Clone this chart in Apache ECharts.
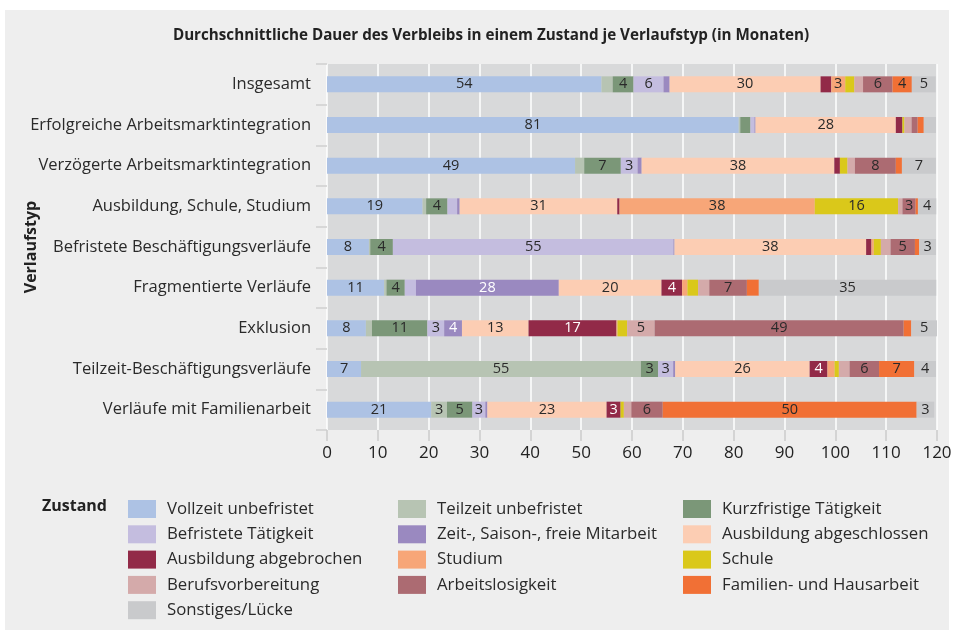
<!DOCTYPE html>
<html>
<head>
<meta charset="utf-8">
<script src="https://cdn.jsdelivr.net/npm/echarts@6/dist/echarts.min.js"></script>
<style>
  html, body { margin: 0; padding: 0; background: #fff; }
  #main { width: 954px; height: 630px; }
</style>
</head>
<body>
<div id="main"></div>
<script>
// Verlaufstypen (von oben nach unten)
var categories = [
	'Insgesamt',
	'Erfolgreiche Arbeitsmarktintegration',
	'Verzögerte Arbeitsmarktintegration',
	'Ausbildung, Schule, Studium',
	'Befristete Beschäftigungsverläufe',
	'Fragmentierte Verläufe',
	'Exklusion',
	'Teilzeit-Beschäftigungsverläufe',
	'Verläufe mit Familienarbeit'
];

// Monate je Zustand, gleiche Reihenfolge wie categories
var vollzeit     = [54.0, 81.0, 48.8, 18.8, 8.25, 11.25, 7.65, 6.7, 20.5];
var teilzeit     = [2.2, 0.3, 1.8, 0.7, 0.26, 0.45, 1.2, 55.05, 3.1];
var kurzfristig  = [4.1, 2.0, 7.2, 4.2, 4.45, 3.6, 10.9, 3.4, 5.0];
var befristet    = [5.9, 0.8, 3.3, 1.9, 55.2, 2.2, 3.3, 2.95, 2.55];
var zeitarbeit   = [1.2, 0.2, 0.8, 0.5, 0.2, 28.1, 3.5, 0.4, 0.4];
var ausbAbgeschl = [29.7, 27.6, 37.9, 31.0, 37.7, 20.2, 13.1, 26.45, 23.45];
var ausbAbgebr   = [2.1, 1.3, 1.1, 0.45, 1.05, 4.05, 17.3, 3.5, 2.75];
var studium      = [2.75, 0, 0, 38.4, 0.45, 1.05, 0.2, 1.4, 0];
var schule       = [1.8, 0.4, 1.5, 16.4, 1.4, 2.1, 1.9, 0.85, 0.65];
var berufsvorb   = [1.7, 1.4, 1.45, 0.85, 1.9, 2.2, 5.4, 2.1, 1.45];
var arbeitslos   = [5.8, 1.2, 8.05, 2.6, 4.8, 7.4, 49.0, 5.8, 6.2];
var familie      = [3.8, 1.2, 1.2, 0.45, 0.85, 2.35, 1.5, 6.95, 49.95];
var sonstiges    = [4.7, 2.4, 6.7, 3.6, 3.3, 34.9, 5.05, 4.25, 3.45];

var xTicks = [0, 10, 20, 30, 40, 50, 60, 70, 80, 90, 100, 110, 120];

// Zustände: name, daten, farbe, labelfarbe
var zustaende = [
	['Vollzeit unbefristet', vollzeit, '#adc2e4', '#2a2a2a'],
	['Teilzeit unbefristet', teilzeit, '#b7c4b3', '#2a2a2a'],
	['Kurzfristige Tätigkeit', kurzfristig, '#7b9778', '#2a2a2a'],
	['Befristete Tätigkeit', befristet, '#c4bddf', '#2a2a2a'],
	['Zeit-, Saison-, freie Mitarbeit', zeitarbeit, '#9a89c0', '#fff'],
	['Ausbildung abgeschlossen', ausbAbgeschl, '#fccdb3', '#2a2a2a'],
	['Ausbildung abgebrochen', ausbAbgebr, '#922a48', '#fff'],
	['Studium', studium, '#f7a678', '#2a2a2a'],
	['Schule', schule, '#dac81a', '#2a2a2a'],
	['Berufsvorbereitung', berufsvorb, '#d4aaaa', '#2a2a2a'],
	['Arbeitslosigkeit', arbeitslos, '#ac6b72', '#2a2a2a'],
	['Familien- und Hausarbeit', familie, '#f17035', '#2a2a2a'],
	['Sonstiges/Lücke', sonstiges, '#c9cacc', '#2a2a2a']
];

var FONT = 'Open Sans';

var series = zustaende.map(function(z) {
	return {
		name: z[0],
		type: 'bar',
		stack: 'gesamt',
		barWidth: 16,
		data: z[1],
		itemStyle: { color: z[2] },
		label: {
			show: true,
			position: 'inside',
			color: z[3],
			fontFamily: FONT,
			fontSize: 14.5,
			formatter: function(p) {
				return p.value >= 2.5 ? Math.round(p.value) : '';
			}
		},
		emphasis: { disabled: true }
	};
});

// Legende in drei Spalten
var legendCols = [
	[0, 3, 6, 9, 12],
	[1, 4, 7, 10],
	[2, 5, 8, 11]
];
var legendLeft = [128, 398, 683];
var legends = legendCols.map(function(col, i) {
	return {
		orient: 'vertical',
		left: legendLeft[i],
		top: 500,
		itemWidth: 28,
		itemHeight: 18,
		itemGap: 7.3,
		icon: 'rect',
		selectedMode: false,
		padding: 0,
		data: col.map(function(k) { return zustaende[k][0]; }),
		textStyle: {
			fontFamily: FONT,
			fontSize: 16.8,
			color: '#2a2a2a',
			padding: [0, 0, 0, 6]
		}
	};
});

var chart = echarts.init(document.getElementById('main'));
chart.setOption({
	backgroundColor: '#eeeeee',
	animation: false,
	title: {
		text: 'Durchschnittliche Dauer des Verbleibs in einem Zustand je Verlaufstyp (in Monaten)',
		left: 486,
		textAlign: 'center',
		top: 23,
		textStyle: {
			fontFamily: FONT,
			fontSize: 15.2,
			fontWeight: 'bold',
			color: '#222'
		}
	},
	legend: legends,
	graphic: [
		{ type: 'rect', left: 0, top: 0, shape: { width: 954, height: 10 }, style: { fill: '#fff' } },
		{ type: 'rect', left: 0, top: 0, shape: { width: 5, height: 630 }, style: { fill: '#fff' } },
		{ type: 'rect', right: 0, top: 0, shape: { width: 5, height: 630 }, style: { fill: '#fff' } },
		{
			type: 'text', left: 42, top: 498,
			style: { text: 'Zustand', font: 'bold 16px "Open Sans"', fill: '#222' }
		}
	],
	grid: {
		left: 327,
		right: 17,
		top: 64,
		height: 366,
		outerBoundsMode: 'none',
		containLabel: false,
		show: true,
		backgroundColor: '#d8d9da',
		borderWidth: 0
	},
	xAxis: {
		type: 'value',
		min: xTicks[0],
		max: xTicks[xTicks.length - 1],
		interval: 10,
		axisLine: { show: false },
		axisTick: { show: true, length: 11, lineStyle: { color: '#cccccc', width: 1.5 } },
		splitLine: { show: true, lineStyle: { color: '#ffffff', width: 1.5 } },
		axisLabel: { margin: 15, fontFamily: FONT, fontSize: 17, color: '#222' }
	},
	yAxis: {
		type: 'category',
		inverse: true,
		data: categories,
		name: 'Verlaufstyp',
		nameLocation: 'middle',
		nameRotate: 90,
		nameGap: 288,
		nameMoveOverlap: false,
		nameTextStyle: { fontFamily: FONT, fontSize: 16, fontWeight: 'bold', color: '#222' },
		axisLine: { show: false },
		axisTick: { show: true, length: 11, lineStyle: { color: '#d0d0d0', width: 1.5 } },
		axisLabel: { margin: 16, fontFamily: FONT, fontSize: 16.5, color: '#2a2a2a' }
	},
	series: series
});
</script>
</body>
</html>
